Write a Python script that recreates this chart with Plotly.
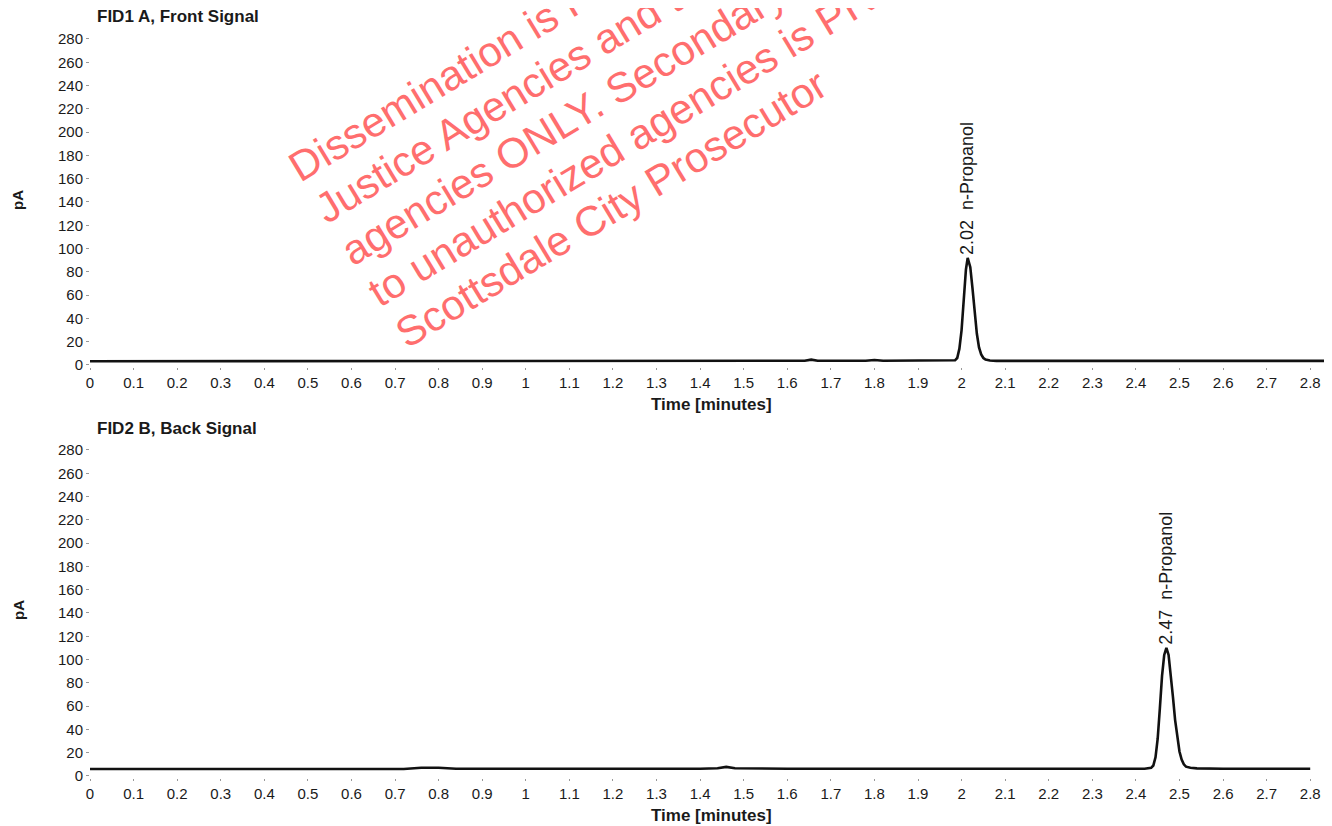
import plotly.graph_objects as go
import math

# ---------------- data ----------------
front_time = [0.0, 0.2, 0.4, 0.6, 0.8, 1.0, 1.2, 1.4, 1.6, 1.64, 1.655, 1.67, 1.78, 1.8, 1.82, 1.9,
              1.975, 1.985, 1.99, 1.995, 2.0, 2.005, 2.01, 2.014, 2.02, 2.025, 2.03, 2.035,
              2.04, 2.045, 2.05, 2.055, 2.065, 2.08, 2.2, 2.4, 2.6, 2.85]
front_pA = [3.2, 3.3, 3.3, 3.3, 3.4, 3.4, 3.4, 3.5, 3.5, 3.6, 4.6, 3.6, 3.6, 4.3, 3.6, 3.5,
            3.6, 4.0, 6.0, 14, 30, 55, 82, 92, 84, 66, 45, 27,
            15, 9, 6, 4.6, 3.8, 3.5, 3.5, 3.5, 3.5, 3.5]

back_time = [0.0, 0.2, 0.4, 0.6, 0.72, 0.76, 0.8, 0.84, 1.0, 1.2, 1.4, 1.44, 1.46, 1.48, 1.6,
             1.8, 2.0, 2.2, 2.42, 2.435, 2.44, 2.445, 2.45, 2.455, 2.46, 2.465, 2.47, 2.475,
             2.48, 2.485, 2.49, 2.495, 2.5, 2.505, 2.51, 2.515, 2.525, 2.54, 2.6, 2.8]
back_pA = [6.0, 6.0, 6.0, 6.0, 6.0, 7.0, 7.0, 6.2, 6.0, 6.2, 6.2, 6.6, 7.8, 6.6, 6.2,
           6.2, 6.4, 6.2, 6.2, 7.0, 9.0, 16, 32, 58, 86, 104, 110, 104,
           88, 68, 48, 32, 21, 14, 10, 8, 7, 6.5, 6.2, 6.2]

y_ticks = [0, 20, 40, 60, 80, 100, 120, 140, 160, 180, 200, 220, 240, 260, 280]
x_ticks = [0, 0.1, 0.2, 0.3, 0.4, 0.5, 0.6, 0.7, 0.8, 0.9, 1, 1.1, 1.2, 1.3, 1.4, 1.5,
           1.6, 1.7, 1.8, 1.9, 2, 2.1, 2.2, 2.3, 2.4, 2.5, 2.6, 2.7, 2.8]
x_tick_text = [f"{v:g}" for v in x_ticks]

panel_titles = ["FID1 A, Front Signal", "FID2 B, Back Signal"]
peak_labels = ["2.02  n-Propanol", "2.47  n-Propanol"]
peak_times = [2.014, 2.47]
peak_heights = [92, 110]

watermark_lines = [
    "Dissemination is Restricted to Criminal",
    "Justice Agencies and their authorized",
    "agencies ONLY. Secondary dissemination",
    "to unauthorized agencies is PROHIBITED.",
    "Scottsdale City Prosecutor",
]

# ---------------- layout helpers ----------------
OFF = 8                      # page body margin
W, H = 1332 - OFF, 826 - OFF
FONT = "Liberation Sans, Arial, sans-serif"


def px(x):
    return (x - OFF) / W


def py(y):
    return 1 - (y - OFF) / H


fig = go.Figure()
fig.add_trace(go.Scatter(x=front_time, y=front_pA, mode="lines",
                         line=dict(color="#111111", width=2.6), xaxis="x", yaxis="y",
                         showlegend=False, hoverinfo="skip"))
fig.add_trace(go.Scatter(x=back_time, y=back_pA, mode="lines",
                         line=dict(color="#111111", width=2.6), xaxis="x2", yaxis="y2",
                         showlegend=False, hoverinfo="skip"))

x_dom = [px(90), 1.0]
top_dom = [py(367.3), py(32)]
bot_dom = [py(778.3), py(443)]

xaxis_common = dict(range=[0, 2.85], showgrid=False, zeroline=False, showline=False,
                    automargin=False,
                    tickmode="array", tickvals=x_ticks, ticktext=x_tick_text,
                    ticks="outside", ticklen=2, tickcolor="#999999",
                    tickfont=dict(family=FONT, size=15, color="#1a1a1a"))
yaxis_common = dict(range=[-2, 286], showgrid=False, zeroline=False, showline=False,
                    automargin=False,
                    tickmode="array", tickvals=y_ticks,
                    ticks="outside", ticklen=3, tickcolor="#999999",
                    tickfont=dict(family=FONT, size=15, color="#1a1a1a"))

fig.update_layout(
    width=W, height=H,
    margin=dict(l=0, r=0, t=0, b=0, pad=0, autoexpand=False),
    paper_bgcolor="white", plot_bgcolor="white",
    xaxis=dict(domain=x_dom, anchor="y", **xaxis_common),
    yaxis=dict(domain=top_dom, anchor="x", **yaxis_common),
    xaxis2=dict(domain=x_dom, anchor="y2", **xaxis_common),
    yaxis2=dict(domain=bot_dom, anchor="x2", **yaxis_common),
)

annotations = []
# panel titles
for title, ty in zip(panel_titles, [17, 428]):
    annotations.append(dict(text=f"<b>{title}</b>", x=px(95), y=py(ty), xref="paper", yref="paper",
                            xanchor="left", yanchor="middle", showarrow=False,
                            font=dict(family=FONT, size=17, color="#1a1a1a")))
# axis titles
for ty in [404, 815]:
    annotations.append(dict(text="<b>Time [minutes]</b>", x=px(711), y=py(ty), xref="paper", yref="paper",
                            xanchor="center", yanchor="middle", showarrow=False,
                            font=dict(family=FONT, size=17, color="#1a1a1a")))
for ty in [200, 610]:
    annotations.append(dict(text="<b>pA</b>", x=px(18), y=py(ty), xref="paper", yref="paper",
                            xanchor="center", yanchor="middle", showarrow=False, textangle=-90,
                            font=dict(family=FONT, size=15, color="#1a1a1a")))
# peak labels
for lbl, t, h, xr, yr in zip(peak_labels, peak_times, peak_heights, ["x", "x2"], ["y", "y2"]):
    annotations.append(dict(text=lbl, x=t, y=h, xref=xr, yref=yr, xanchor="center", yanchor="bottom",
                            showarrow=False, textangle=-90, yshift=1,
                            font=dict(family=FONT, size=18, color="#1a1a1a")))

# watermark (rotated red text lines, left aligned)
ang = 31.2
s, c = math.sin(math.radians(ang)), math.cos(math.radians(ang))
wm_font = 42
box_h = wm_font * 1.3 + 2
starts = [(301, 184), (328, 225), (354, 267), (381, 308), (408, 350)]
for line, (sx, sy) in zip(watermark_lines, starts):
    cx = sx + 0.28 * wm_font * s
    cy = sy + 0.28 * wm_font * c
    ax = cx - box_h * s
    annotations.append(dict(text=line, x=px(ax), y=py(cy), xref="paper", yref="paper",
                            xanchor="left", yanchor="bottom", showarrow=False, textangle=-ang,
                            font=dict(family=FONT, size=wm_font, color="#ff6e6e")))

fig.update_layout(annotations=annotations)

fig.write_html("out.html")
